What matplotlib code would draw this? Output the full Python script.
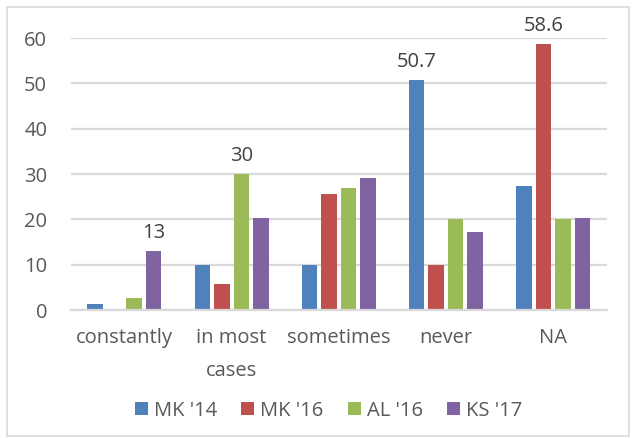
import matplotlib
matplotlib.use("Agg")
import matplotlib.pyplot as plt
from matplotlib.patches import Rectangle
import numpy as np

plt.rcParams['font.family'] = ['Open Sans', 'DejaVu Sans']

categories = ["constantly", "in most\ncases", "sometimes", "never", "NA"]
series_names = ["MK '14", "MK '16", "AL '16", "KS '17"]
mk14 = [1.3, 10, 10, 50.7, 27.4]
mk16 = [0, 5.7, 25.6, 10, 58.6]
al16 = [2.6, 30, 26.9, 20, 20]
ks17 = [13, 20.3, 29.1, 17.2, 20.3]
series = [mk14, mk16, al16, ks17]
colors = ["#4F81BD", "#C0504D", "#9BBB59", "#8064A2"]

# value labels shown on selected bars: (series index, category index)
labelled = [(3, 0), (2, 1), (0, 3), (1, 4)]

FS = 14.5

fig = plt.figure(figsize=(6.32, 4.38), dpi=100)
fig.patches.append(Rectangle((7 / 632, 2 / 438), 622 / 632, 429 / 438,
                             transform=fig.transFigure, fill=False,
                             edgecolor="#d9d9d9", linewidth=1.2))
ax = fig.add_axes([0.112, 0.292, 0.848, 0.621])

x = np.arange(len(categories))
step = 0.182
width = 0.145
for i, (vals, col, name) in enumerate(zip(series, colors, series_names)):
    offs = (i - 1.5) * step
    ax.bar(x + offs, vals, width=width, color=col, label=name, zorder=3)

for si, ci in labelled:
    v = series[si][ci]
    txt = f"{v:g}"
    ax.text(x[ci] + (si - 1.5) * step, v + 1.8, txt, ha="center", va="bottom",
            fontsize=FS, color="#404040")

ax.set_xlim(-0.5, len(categories) - 0.5)
ax.set_ylim(0, 60)
ax.set_yticks(range(0, 61, 10))
ax.yaxis.grid(True, color="#d9d9d9", linewidth=1.6, zorder=0)
ax.set_axisbelow(True)
for s in ["top", "right", "left"]:
    ax.spines[s].set_visible(False)
ax.spines["bottom"].set_color("#d9d9d9")
ax.spines["bottom"].set_linewidth(1.6)
ax.spines["bottom"].set_zorder(4)
ax.tick_params(axis="both", length=0, labelsize=FS, colors="#595959")
ax.tick_params(axis="y", pad=17)
ax.tick_params(axis="x", pad=13)
ax.set_xticks(x)
ax.set_xticklabels(categories, linespacing=1.85)

fig.legend(loc="center", bbox_to_anchor=(0.52, 0.062), ncol=4, frameon=False,
           fontsize=FS, handlelength=0.65, handleheight=0.65, handletextpad=0.3,
           columnspacing=1.2, labelcolor="#595959")

fig.savefig("out.png", dpi=100)
